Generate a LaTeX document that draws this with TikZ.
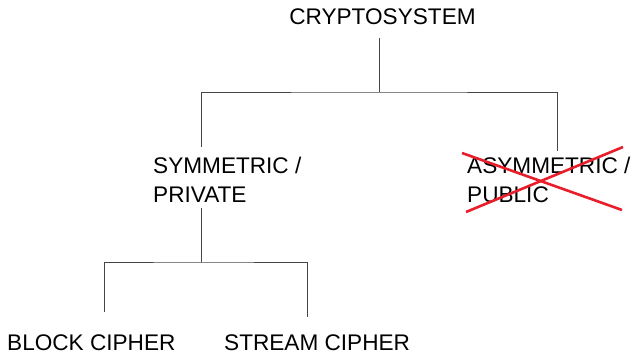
\documentclass[tikz,border=0pt]{standalone}
\usepackage{fontspec}
\setmainfont{Liberation Sans}
\definecolor{linegray}{RGB}{70,70,70}
\definecolor{crossred}{RGB}{232,30,42}
\begin{document}
\begin{tikzpicture}[x=1pt,y=-1pt,
  lbl/.style={inner sep=0pt,font=\fontsize{22.6}{29}\selectfont,text=black},
  conn/.style={draw=linegray,line width=1pt},
  strike/.style={draw=crossred,line width=2.6pt}]
\useasboundingbox (0,0) rectangle (634,353);
% texts
\node[lbl,anchor=base] (crypto) at (382.5,25) {CRYPTOSYSTEM};
\node[lbl,anchor=base west,align=left] (sym) at (153,202) {SYMMETRIC /\\PRIVATE};
\node[lbl,anchor=base west,align=left] (asym) at (467,202) {ASYMMETRIC /\\PUBLIC};
\node[lbl,anchor=base west,text depth=0pt] (block) at (7,350) {BLOCK CIPHER};
\node[lbl,anchor=base west,text depth=0pt] (stream) at (224,350) {STREAM CIPHER};
% connector coordinates
\coordinate (cTop) at (379,38);
\coordinate (bus1) at (379,92);
\coordinate (symIn) at (201.5,147);
\coordinate (asymIn) at (557,151);
\coordinate (symOut) at (201.5,208);
\coordinate (bus2) at (201.5,262);
\coordinate (blockIn) at (104,312);
\coordinate (streamIn) at (307,317);
\draw[conn] (cTop) -- (bus1);
\draw[conn] (symIn) |- (bus1) -| (asymIn);
\draw[conn] (symOut) -- (bus2);
\draw[conn] (blockIn) |- (bus2) -| (streamIn);
% red cross
\coordinate (x1) at (462,153);
\coordinate (x2) at (622,210);
\coordinate (x3) at (466,212);
\coordinate (x4) at (623,147);
\draw[strike] (x1) -- (x2);
\draw[strike] (x3) -- (x4);
\end{tikzpicture}
\end{document}
